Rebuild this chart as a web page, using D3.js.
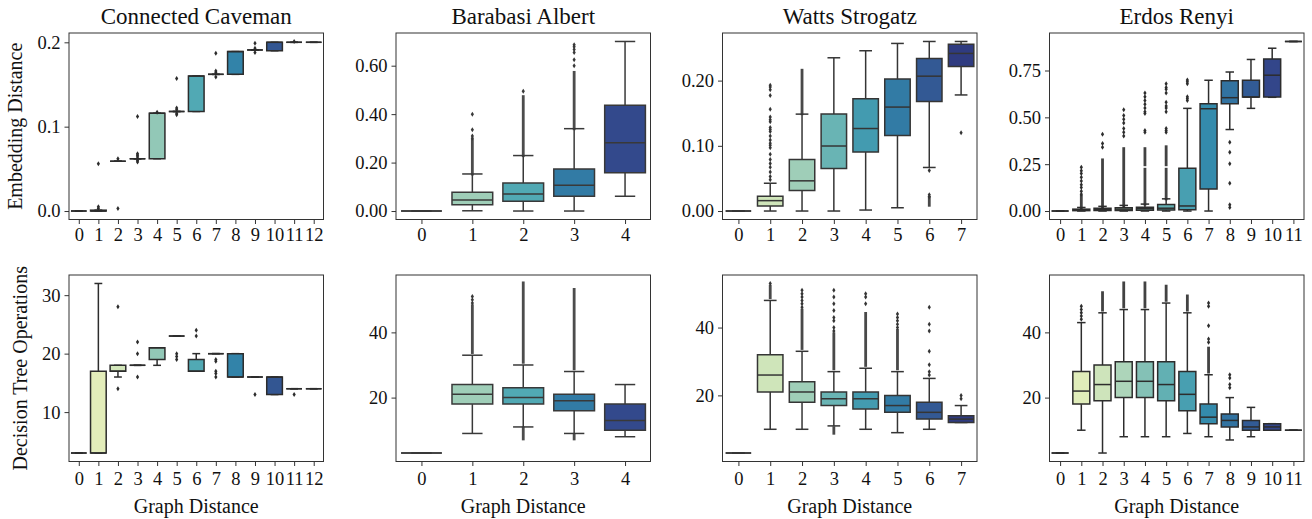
<!DOCTYPE html>
<html>
<head>
<meta charset="utf-8">
<script src="https://cdn.jsdelivr.net/npm/d3@7"></script>
<style>
  body { margin: 0; background: #fff; }
  svg text { font-family: "Liberation Serif", "DejaVu Serif", serif; fill: #111; }
</style>
</head>
<body>
<div class="chart"></div>
<script>
// Box plots of embedding distance / decision tree operations vs graph distance

var titles = ['Connected Caveman', 'Barabasi Albert', 'Watts Strogatz', 'Erdos Renyi'];
var rowLabels = ['Embedding Distance', 'Decision Tree Operations'];
var xLabel = 'Graph Distance';

// each box: [whisker low, q1, median, q3, whisker high]
var ccEmbedBoxes = [
  [0, 0, 0, 0, 0], [0, 0, 0, 0.001, 0.001], [0.059, 0.059, 0.059, 0.059, 0.059],
  [0.062, 0.062, 0.062, 0.062, 0.062], [0.062, 0.062, 0.116, 0.116, 0.116],
  [0.118, 0.118, 0.118, 0.118, 0.118], [0.118, 0.118, 0.160, 0.160, 0.160],
  [0.162, 0.162, 0.162, 0.162, 0.162], [0.162, 0.162, 0.189, 0.189, 0.189],
  [0.191, 0.191, 0.191, 0.191, 0.191], [0.190, 0.190, 0.200, 0.200, 0.200],
  [0.200, 0.200, 0.200, 0.200, 0.200], [0.200, 0.200, 0.200, 0.200, 0.200]
];
var ccEmbedFliers = [
  [], [0.003, 0.005, 0.056], [0.003, 0.062], [0.058, 0.060, 0.064, 0.066, 0.068, 0.112],
  [0.117], [0.114, 0.116, 0.120, 0.122, 0.157], [], [0.159, 0.164, 0.166, 0.187],
  [], [0.188, 0.193, 0.199], [], [0.201], []
];
var ccEmbedDense = [[], [], [], [], [], [], [], [], [], [], [], [], []];

var baEmbedBoxes = [
  [0, 0, 0, 0, 0], [0.001, 0.026, 0.046, 0.077, 0.153], [0, 0.040, 0.0705, 0.116, 0.229],
  [0, 0.061, 0.106, 0.174, 0.340], [0.061, 0.158, 0.282, 0.437, 0.700]
];
var baEmbedFliers = [
  [], [0.30, 0.31, 0.336, 0.40], [0.495], [0.60, 0.625, 0.655, 0.667, 0.678, 0.686], []
];
var baEmbedDense = [[], [[0.155, 0.29]], [[0.231, 0.47]], [[0.342, 0.57]], []];

var wsEmbedBoxes = [
  [0, 0, 0, 0, 0], [0, 0.0077, 0.0159, 0.0225, 0.0426], [0, 0.0313, 0.0463, 0.079, 0.1486],
  [0, 0.0653, 0.0997, 0.1486, 0.235], [0.0015, 0.0904, 0.1265, 0.172, 0.2458],
  [0.005, 0.1157, 0.1594, 0.2026, 0.257], [0.0668, 0.168, 0.2068, 0.234, 0.260],
  [0.178, 0.2216, 0.2417, 0.2556, 0.260]
];
var wsEmbedFliers = [
  [],
  [0.048, 0.053, 0.060, 0.067, 0.073, 0.079, 0.087, 0.097, 0.101, 0.104, 0.109, 0.115,
   0.122, 0.125, 0.128, 0.137, 0.140, 0.144, 0.156, 0.177, 0.186, 0.190, 0.193],
  [], [], [], [], [0.062, 0.025, 0.022], [0.120]
];
var wsEmbedDense = [[], [], [[0.15, 0.215]], [], [], [], [[0.0097, 0.02]], []];

var erEmbedBoxes = [
  [0, 0, 0, 0, 0], [0, 0.002, 0.005, 0.010, 0.019], [0, 0.003, 0.008, 0.015, 0.025],
  [0, 0.003, 0.010, 0.018, 0.030], [0, 0.004, 0.012, 0.020, 0.037],
  [0, 0.005, 0.015, 0.035, 0.065], [0, 0.007, 0.027, 0.228, 0.548],
  [0, 0.118, 0.546, 0.573, 0.698], [0.435, 0.573, 0.605, 0.696, 0.742],
  [0.548, 0.608, 0.608, 0.698, 0.809], [0.607, 0.608, 0.725, 0.812, 0.869],
  [0.905, 0.905, 0.905, 0.905, 0.905]
];
var erEmbedFliers = [
  [], [0.09, 0.105, 0.125, 0.14, 0.16, 0.18, 0.20, 0.215, 0.233], [0.34, 0.36, 0.41],
  [0.40, 0.42, 0.44, 0.47, 0.49, 0.51, 0.54],
  [0.42, 0.43, 0.52, 0.53, 0.55, 0.57, 0.59, 0.61, 0.63],
  [0.42, 0.43, 0.44, 0.53, 0.55, 0.56, 0.58, 0.63, 0.65, 0.66, 0.68],
  [0.59, 0.60, 0.61, 0.68, 0.69, 0.70], [], [0.367, 0.314, 0.252, 0.148, 0.034, 0.019],
  [], [], []
];
var erEmbedDense = [
  [], [[0.02, 0.075]], [[0.026, 0.27]], [[0.032, 0.33]], [[0.04, 0.22], [0.25, 0.33]],
  [[0.068, 0.22], [0.25, 0.34]], [], [], [], [], [], []
];

var ccOpsBoxes = [
  [3, 3, 3, 3, 3], [3, 3, 3, 17, 32], [16, 17, 17, 18, 18], [18, 18, 18, 18, 18],
  [18, 19, 21, 21, 21], [23, 23, 23, 23, 23], [17, 17, 17, 19, 20], [20, 20, 20, 20, 20],
  [16, 16, 16, 20, 20], [16, 16, 16, 16, 16], [13, 13, 16, 16, 16], [14, 14, 14, 14, 14],
  [14, 14, 14, 14, 14]
];
var ccOpsFliers = [
  [], [], [28, 14], [22, 20, 16], [], [20, 19.5, 19], [23, 24], [19, 18.7, 17, 16.6, 16],
  [], [13], [], [13], []
];
var ccOpsDense = [[], [], [], [], [], [], [], [], [], [], [], [], []];

var baOpsBoxes = [
  [3, 3, 3, 3, 3], [9, 18, 21, 24, 33], [11, 18, 20, 23, 30], [9, 16, 19, 21, 28],
  [8, 10, 13, 18, 24]
];
var baOpsFliers = [[], [49, 50, 51], [], [], []];
var baOpsDense = [[], [[34, 48]], [[31, 55], [7.5, 10.5]], [[29, 53], [7.5, 8.5]], []];

var wsOpsBoxes = [
  [3, 3, 3, 3, 3], [10, 21, 26, 32, 48], [10, 18, 21, 24, 33], [11, 17, 19, 21, 27],
  [10, 16, 19, 21, 28], [9, 15, 17, 20, 27], [10, 13, 15, 18, 25], [12, 12, 13, 14, 17]
];
var wsOpsFliers = [
  [], [53], [46, 47, 48, 49, 50, 51], [39, 40, 42, 43, 45, 47, 49, 51], [47, 49, 50],
  [40, 41, 42, 43, 44], [26, 27, 29, 33, 39, 41, 46], [19, 20]
];
var wsOpsDense = [[], [[49, 52]], [[34, 45]], [[28, 38], [9, 10.3]], [[29, 44]], [[28, 39]], [], []];

var erOpsBoxes = [
  [3, 3, 3, 3, 3], [10, 18, 22, 28, 43], [3, 19, 24, 30, 46], [8, 20, 25, 31, 47],
  [8, 20, 25, 31, 47], [8, 19, 24, 31, 49], [9, 16, 21, 28, 46], [8, 12, 14, 18, 27],
  [7, 11, 13, 15, 20], [8, 10, 11, 13, 17], [10, 10, 11, 12, 12], [10, 10, 10, 10, 10]
];
var erOpsFliers = [
  [], [44, 45, 46, 47, 48], [], [], [], [], [], [37, 38, 42, 48, 49], [23, 24, 26, 27],
  [], [], []
];
var erOpsDense = [[], [], [[47, 52]], [[48, 55]], [[48, 55]], [[50, 54]], [[47, 51]], [[28, 35]], [], [], [], []];

// y tick values per panel
var ccEmbedTicks = [0, 0.1, 0.2];
var baEmbedTicks = [0, 0.2, 0.4, 0.6];
var wsEmbedTicks = [0, 0.1, 0.2];
var erEmbedTicks = [0, 0.25, 0.5, 0.75];
var ccOpsTicks = [10, 20, 30];
var otherOpsTicks = [20, 40];

var panels = [
  { row: 0, col: 0, boxes: ccEmbedBoxes, fliers: ccEmbedFliers, dense: ccEmbedDense, ticks: ccEmbedTicks, fmt: '.1f' },
  { row: 0, col: 1, boxes: baEmbedBoxes, fliers: baEmbedFliers, dense: baEmbedDense, ticks: baEmbedTicks, fmt: '.2f' },
  { row: 0, col: 2, boxes: wsEmbedBoxes, fliers: wsEmbedFliers, dense: wsEmbedDense, ticks: wsEmbedTicks, fmt: '.2f' },
  { row: 0, col: 3, boxes: erEmbedBoxes, fliers: erEmbedFliers, dense: erEmbedDense, ticks: erEmbedTicks, fmt: '.2f' },
  { row: 1, col: 0, boxes: ccOpsBoxes, fliers: ccOpsFliers, dense: ccOpsDense, ticks: ccOpsTicks, fmt: 'd' },
  { row: 1, col: 1, boxes: baOpsBoxes, fliers: baOpsFliers, dense: baOpsDense, ticks: otherOpsTicks, fmt: 'd' },
  { row: 1, col: 2, boxes: wsOpsBoxes, fliers: wsOpsFliers, dense: wsOpsDense, ticks: otherOpsTicks, fmt: 'd' },
  { row: 1, col: 3, boxes: erOpsBoxes, fliers: erOpsFliers, dense: erOpsDense, ticks: otherOpsTicks, fmt: 'd' }
];

// layout
var width = 1312, height = 519;
var colLeft = [69, 396, 722.5, 1049.5];
var plotW = 254.5;
var rowTop = [33, 275];
var plotH = 186.5;

// YlGnBu like matplotlib, sampled the way seaborn does it, then desaturated (0.75)
var ylgnbu = ['#ffffd9', '#edf8b1', '#c7e9b4', '#7fcdbb', '#41b6c4', '#1d91c0', '#225ea8', '#253494', '#081d58'];
var cmap = d3.scaleLinear()
  .domain(d3.range(9).map(function(i) { return i / 8; }))
  .range(ylgnbu)
  .interpolate(d3.interpolateRgb);

var palette = function(n) {
  return d3.range(n).map(function(i) { return d3.color(cmap((i + 1) / (n + 1))); });
};
var desaturate = function(c) {
  var h = d3.hsl(c);
  h.s *= 0.75;
  return h.formatHex();
};
var grayFor = function(cols) {
  var lum = d3.min(cols, function(c) { return d3.hsl(c).l; }) * 0.6;
  var v = Math.round(lum * 255);
  return d3.rgb(v, v, v).formatHex();
};

var svg = d3.select('.chart').append('svg')
  .attr('width', width)
  .attr('height', height);

var diamond = 'M0,-2.5L1.6,0L0,2.5L-1.6,0Z';

panels.forEach(function(p) {
  var n = p.boxes.length;
  var left = colLeft[p.col], top = rowTop[p.row];
  var raw = palette(n);
  var colors = raw.map(desaturate);
  var gray = grayFor(raw);

  // y limits: data extent + 5% margin, like matplotlib autoscale
  var vals = [];
  p.boxes.forEach(function(b, i) {
    vals.push(b[0], b[4]);
    p.fliers[i].forEach(function(v) { vals.push(v); });
    p.dense[i].forEach(function(r) { vals.push(r[0], r[1]); });
  });
  var lo = d3.min(vals), hi = d3.max(vals), pad = (hi - lo) * 0.05;

  var x = d3.scaleLinear().domain([-0.5, n - 0.5]).range([0, plotW]);
  var y = d3.scaleLinear().domain([lo - pad, hi + pad]).range([plotH, 0]);
  var halfBox = x(0.4) - x(0);
  var halfCap = halfBox / 2;

  var g = svg.append('g').attr('transform', 'translate(' + left + ',' + top + ')');

  // axes
  var yAxis = d3.axisLeft(y).tickValues(p.ticks).tickFormat(d3.format(p.fmt)).tickSize(4.5).tickPadding(4);
  var xAxis = d3.axisBottom(x).tickValues(d3.range(n)).tickFormat(d3.format('d')).tickSize(4.5).tickPadding(p.row === 0 ? 4 : 6);
  var ya = g.append('g').call(yAxis);
  var xa = g.append('g').attr('transform', 'translate(0,' + plotH + ')').call(xAxis);
  [ya, xa].forEach(function(a) {
    a.select('.domain').remove();
    a.selectAll('line').attr('stroke', '#333').attr('stroke-width', 1);
    a.selectAll('text').style('font-size', '18.5px').attr('fill', '#111');
  });

  var boxG = g.selectAll('g.box')
    .data(p.boxes)
    .enter()
    .append('g')
      .attr('class', 'box');

  // whiskers
  boxG.append('line')
    .attr('x1', function(d, i) { return x(i); })
    .attr('x2', function(d, i) { return x(i); })
    .attr('y1', function(d) { return y(d[0]); })
    .attr('y2', function(d) { return y(d[1]); })
    .attr('stroke', gray).attr('stroke-width', 1.5);
  boxG.append('line')
    .attr('x1', function(d, i) { return x(i); })
    .attr('x2', function(d, i) { return x(i); })
    .attr('y1', function(d) { return y(d[3]); })
    .attr('y2', function(d) { return y(d[4]); })
    .attr('stroke', gray).attr('stroke-width', 1.5);
  // caps
  [0, 4].forEach(function(k) {
    boxG.append('line')
      .attr('x1', function(d, i) { return x(i) - halfCap; })
      .attr('x2', function(d, i) { return x(i) + halfCap; })
      .attr('y1', function(d) { return y(d[k]); })
      .attr('y2', function(d) { return y(d[k]); })
      .attr('stroke', gray).attr('stroke-width', 1.5);
  });

  // box (path so a flat box still shows its outline)
  boxG.append('path')
    .attr('d', function(d, i) {
      var x0 = x(i) - halfBox, x1 = x(i) + halfBox;
      return 'M' + x0 + ',' + y(d[1]) + 'H' + x1 + 'V' + y(d[3]) + 'H' + x0 + 'Z';
    })
    .attr('fill', function(d, i) { return colors[i]; })
    .attr('stroke', gray).attr('stroke-width', 1.5);

  // median
  boxG.append('line')
    .attr('x1', function(d, i) { return x(i) - halfBox; })
    .attr('x2', function(d, i) { return x(i) + halfBox; })
    .attr('y1', function(d) { return y(d[2]); })
    .attr('y2', function(d) { return y(d[2]); })
    .attr('stroke', gray).attr('stroke-width', 1.5);

  // dense runs of outliers drawn as a narrow streak
  p.dense.forEach(function(runs, i) {
    g.selectAll(null)
      .data(runs)
      .enter()
      .append('rect')
        .attr('x', x(i) - 1.4)
        .attr('width', 2.8)
        .attr('y', function(r) { return y(r[1]) - 2; })
        .attr('height', function(r) { return y(r[0]) - y(r[1]) + 4; })
        .attr('fill', gray)
        .attr('opacity', 0.9);
  });

  // single outliers
  p.fliers.forEach(function(fl, i) {
    g.selectAll(null)
      .data(fl)
      .enter()
      .append('path')
        .attr('d', diamond)
        .attr('transform', function(v) { return 'translate(' + x(i) + ',' + y(v) + ')'; })
        .attr('fill', gray);
  });

  // frame
  g.append('rect')
    .attr('width', plotW).attr('height', plotH)
    .attr('fill', 'none').attr('stroke', '#333').attr('stroke-width', 1);

  if (p.row === 0) {
    g.append('text')
      .attr('x', plotW / 2).attr('y', -9)
      .attr('text-anchor', 'middle')
      .style('font-size', '23px')
      .text(titles[p.col]);
  }
  if (p.row === 1) {
    g.append('text')
      .attr('x', plotW / 2).attr('y', plotH + 51)
      .attr('text-anchor', 'middle')
      .style('font-size', '20px')
      .text(xLabel);
  }
  if (p.col === 0) {
    g.append('text')
      .attr('transform', 'translate(' + (p.row === 0 ? -47 : -42) + ',' + (plotH / 2) + ') rotate(-90)')
      .attr('text-anchor', 'middle')
      .style('font-size', '20px')
      .text(rowLabels[p.row]);
  }
});
</script>
</body>
</html>
